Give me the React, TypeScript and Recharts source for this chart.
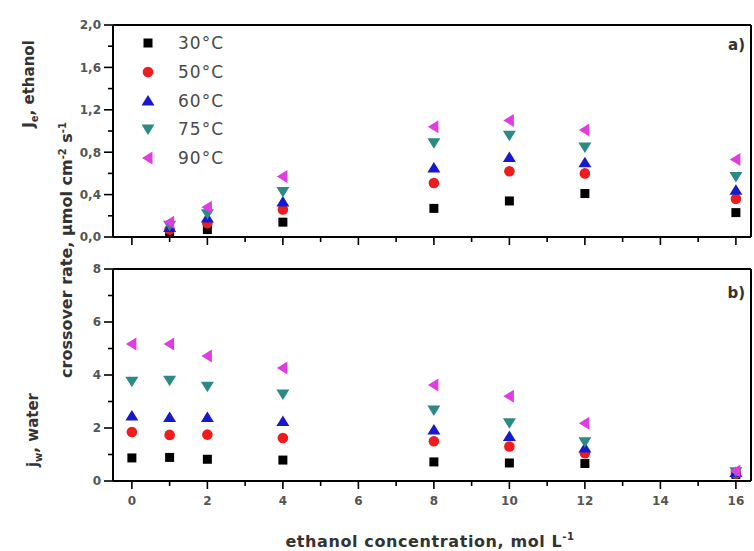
import React from "react";
import { ScatterChart, Scatter, XAxis, YAxis, ReferenceLine } from "recharts";

// concentrations (mol/L)
const concTop = [1, 2, 4, 8, 10, 12, 16];
const concBottom = [0, 1, 2, 4, 8, 10, 12, 16];

// a) ethanol crossover, umol cm-2 s-1
const ethanol30 = [0.04, 0.07, 0.14, 0.27, 0.34, 0.41, 0.23];
const ethanol50 = [0.07, 0.13, 0.26, 0.51, 0.62, 0.6, 0.36];
const ethanol60 = [0.09, 0.18, 0.33, 0.65, 0.75, 0.7, 0.44];
const ethanol75 = [0.11, 0.22, 0.43, 0.89, 0.96, 0.85, 0.57];
const ethanol90 = [0.14, 0.28, 0.57, 1.04, 1.1, 1.01, 0.73];

// b) water crossover
const water30 = [0.87, 0.89, 0.82, 0.79, 0.72, 0.68, 0.66, 0.25];
const water50 = [1.85, 1.74, 1.75, 1.62, 1.5, 1.3, 1.05, 0.28];
const water60 = [2.45, 2.4, 2.4, 2.25, 1.92, 1.68, 1.25, 0.32];
const water75 = [3.76, 3.8, 3.58, 3.28, 2.68, 2.2, 1.48, 0.35];
const water90 = [5.17, 5.17, 4.72, 4.26, 3.62, 3.2, 2.18, 0.38];

const seriesNames = ["30°C", "50°C", "60°C", "75°C", "90°C"];
const seriesKinds = ["square", "circle", "up", "down", "left"];
const seriesColors = ["#000000", "#ee1c1c", "#1818cc", "#2b8a84", "#e03ce0"];

const xTicks = [0, 1, 2, 3, 4, 5, 6, 7, 8, 9, 10, 11, 12, 13, 14, 15, 16];
const yTicksTop = [0, 0.2, 0.4, 0.6, 0.8, 1.0, 1.2, 1.4, 1.6, 1.8, 2.0];
const yLabelsTop = ["0,0", "", "0,4", "", "0,8", "", "1,2", "", "1,6", "", "2,0"];
const yTicksBottom = [0, 1, 2, 3, 4, 5, 6, 7, 8];
const yLabelsBottom = ["0", "", "2", "", "4", "", "6", "", "8"];

const X_DOMAIN = [-0.5, 16.4];
const tickFont = { fontFamily: "'DejaVu Sans', sans-serif", fontWeight: 700, fontSize: 12, fill: "#555" };

const Marker = ({ cx, cy, kind, color }: any) => {
  if (cx == null || cy == null) return null;
  switch (kind) {
    case "square":
      return <rect x={cx - 4.5} y={cy - 4.5} width={9} height={9} fill={color} />;
    case "circle":
      return <circle cx={cx} cy={cy} r={5.3} fill={color} />;
    case "up":
      return <polygon points={`${cx},${cy - 6} ${cx + 6.5},${cy + 4.5} ${cx - 6.5},${cy + 4.5}`} fill={color} />;
    case "down":
      return <polygon points={`${cx - 6.5},${cy - 4.5} ${cx + 6.5},${cy - 4.5} ${cx},${cy + 6}`} fill={color} />;
    default:
      return <polygon points={`${cx - 6},${cy} ${cx + 4.5},${cy - 6.5} ${cx + 4.5},${cy + 6.5}`} fill={color} />;
  }
};

const XTick = ({ x, y, payload, showLabel }: any) => {
  const v = payload.value;
  const major = v % 2 === 0;
  return (
    <g>
      <line x1={x} x2={x} y1={y} y2={y + (major ? 8 : 5)} stroke="#000" strokeWidth={1.6} />
      {showLabel && major && (
        <text x={x} y={y + 24} textAnchor="middle" {...tickFont}>
          {v}
        </text>
      )}
    </g>
  );
};

const YTick = ({ x, y, index, labels }: any) => {
  const major = index % 2 === 0;
  return (
    <g>
      <line x1={x - (major ? 9 : 5)} x2={x} y1={y} y2={y} stroke="#000" strokeWidth={1.6} />
      {major && (
        <text x={x - 12} y={y} dy="0.36em" textAnchor="end" {...tickFont}>
          {labels[index]}
        </text>
      )}
    </g>
  );
};

const toRows = (xs: number[], ys: number[]) => xs.map((x, i) => ({ x, y: ys[i] }));

const Panel = ({ height, top, bottom, xHeight, yMax, yTicks, yLabels, series, xs, showLabels }: any) => (
  <div style={{ position: "absolute", left: 0, top: 0 }}>
    <ScatterChart width={754} height={height} margin={{ top, right: 3, bottom, left: 0 }}>
      <XAxis
        type="number"
        dataKey="x"
        domain={X_DOMAIN}
        ticks={xTicks}
        interval={0}
        allowDataOverflow
        height={xHeight}
        tickSize={0}
        tickMargin={0}
        tickLine={false}
        axisLine={{ stroke: "#000", strokeWidth: 2 }}
        tick={<XTick showLabel={showLabels} />}
      />
      <YAxis
        type="number"
        dataKey="y"
        domain={[0, yMax]}
        ticks={yTicks}
        interval={0}
        allowDataOverflow
        width={113}
        tickSize={0}
        tickMargin={0}
        tickLine={false}
        axisLine={{ stroke: "#000", strokeWidth: 2 }}
        tick={<YTick labels={yLabels} />}
      />
      <ReferenceLine y={yMax} stroke="#000" strokeWidth={2} />
      <ReferenceLine x={X_DOMAIN[1]} stroke="#000" strokeWidth={2} />
      {series.map((ys: number[], i: number) => (
        <Scatter
          key={seriesNames[i]}
          name={seriesNames[i]}
          data={toRows(xs, ys)}
          isAnimationActive={false}
          shape={(p: any) => <Marker cx={p.cx} cy={p.cy} kind={seriesKinds[i]} color={seriesColors[i]} />}
        />
      ))}
    </ScatterChart>
  </div>
);

const legendRows = [43, 72, 101, 129, 158];

export default function App() {
  const titleFont = { fontFamily: "'DejaVu Sans', sans-serif", fontWeight: 700, fill: "#333" };
  return (
    <div style={{ position: "absolute", left: 0, top: 0, width: 754, height: 551, background: "#fff" }}>
      <Panel
        height={250}
        top={25}
        bottom={0}
        xHeight={13}
        yMax={2}
        yTicks={yTicksTop}
        yLabels={yLabelsTop}
        series={[ethanol30, ethanol50, ethanol60, ethanol75, ethanol90]}
        xs={concTop}
        showLabels={false}
      />
      <Panel
        height={551}
        top={269}
        bottom={30}
        xHeight={40}
        yMax={8}
        yTicks={yTicksBottom}
        yLabels={yLabelsBottom}
        series={[water30, water50, water60, water75, water90]}
        xs={concBottom}
        showLabels={true}
      />
      <svg width={754} height={551} style={{ position: "absolute", left: 0, top: 0, pointerEvents: "none" }}>
        {seriesNames.map((n, i) => (
          <g key={n}>
            <Marker cx={148} cy={legendRows[i]} kind={seriesKinds[i]} color={seriesColors[i]} />
            <text
              x={178}
              y={legendRows[i]}
              dy="0.36em"
              fontFamily="'DejaVu Sans', sans-serif"
              fontSize={17}
              letterSpacing={1}
              fill="#4a4a4a"
            >
              {n}
            </text>
          </g>
        ))}
        <text x={745} y={50} textAnchor="end" fontSize={15} {...titleFont}>a)</text>
        <text x={745} y={298} textAnchor="end" fontSize={15} {...titleFont}>b)</text>

        <text transform="translate(34,84) rotate(-90)" textAnchor="middle" fontSize={15} {...titleFont}>
          J<tspan fontSize={10} dy={4}>e</tspan>
          <tspan dy={-4}>, ethanol</tspan>
        </text>
        <text transform="translate(72,250) rotate(-90)" textAnchor="middle" fontSize={16} {...titleFont}>
          crossover rate, µmol cm<tspan fontSize={10} dy={-6}>-2</tspan>
          <tspan dy={6}> s</tspan>
          <tspan fontSize={10} dy={-6}>-1</tspan>
        </text>
        <text transform="translate(38,430) rotate(-90)" textAnchor="middle" fontSize={15} {...titleFont}>
          j<tspan fontSize={10} dy={4}>w</tspan>
          <tspan dy={-4}>, water</tspan>
        </text>

        <text x={430} y={547} textAnchor="middle" fontSize={16} letterSpacing={0.6} {...titleFont}>
          ethanol concentration, mol L<tspan fontSize={10} dy={-7}>-1</tspan>
        </text>
      </svg>
    </div>
  );
}
